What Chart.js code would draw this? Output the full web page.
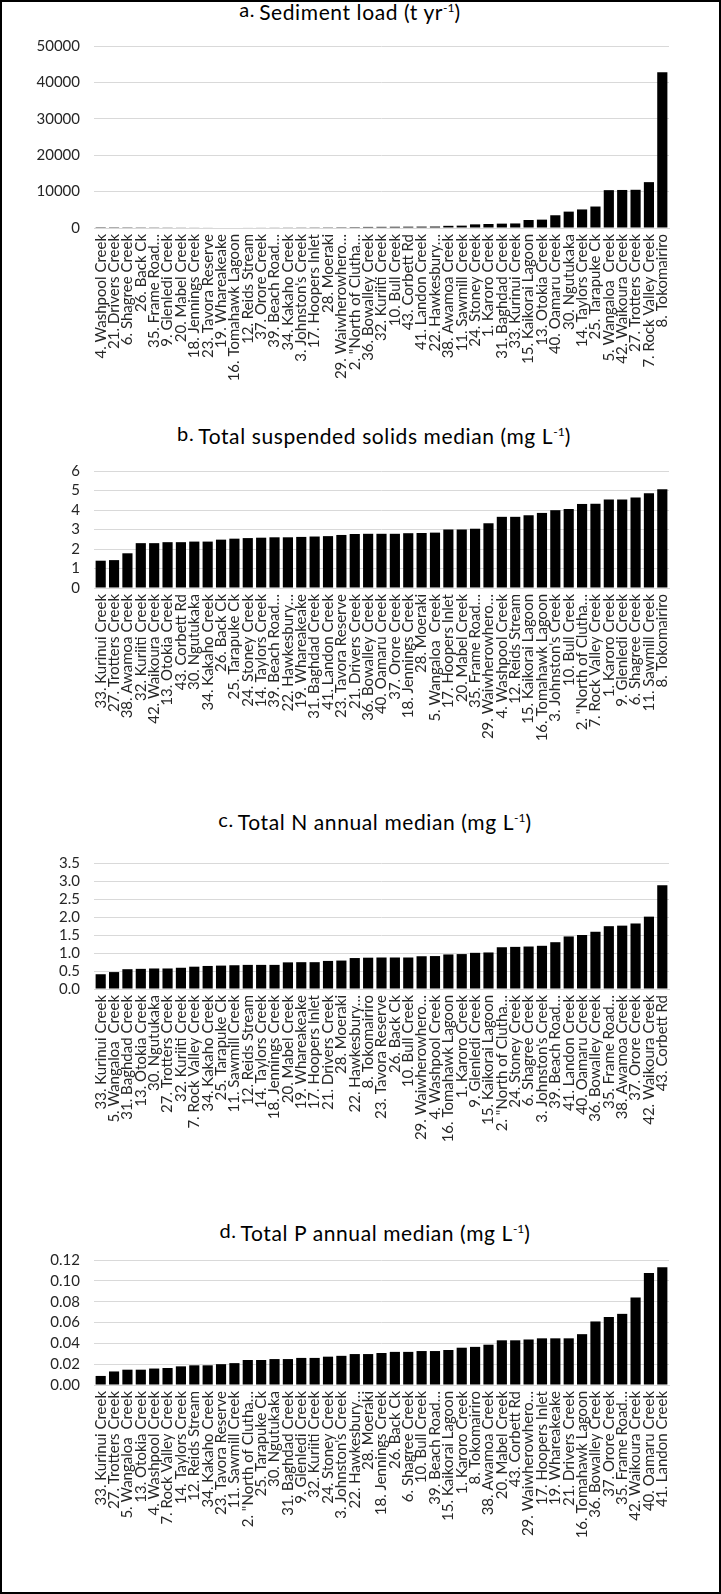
<!DOCTYPE html>
<html>
<head>
<meta charset="utf-8">
<script src="https://cdn.jsdelivr.net/npm/chart.js@4.4.1/dist/chart.umd.min.js"></script>
<style>
  html, body { margin: 0; padding: 0; background: #fff; }
  #page { position: relative; width: 721px; height: 1594px; overflow: hidden; background: #fff; }
  #frame { position: absolute; left: 0; top: 0; width: 721px; height: 1594px; box-sizing: border-box; border: 2px solid #000; pointer-events: none; }
  .title { position: absolute; font-family: Lato, "Open Sans", sans-serif; font-size: 21px; letter-spacing: 0.6px; color: #000; white-space: nowrap; transform: translateX(-50%); line-height: 1; }
  .title .lt { font-size: 20px; position: relative; top: -3px; margin-right: 4px; }
  .title sup { font-size: 12px; vertical-align: 8px; line-height: 0; letter-spacing: 0; }
  .panel { position: absolute; left: 0; width: 721px; }
</style>
</head>
<body>
<div id="page">
  <div class="title" style="left:350px; top:1px;"><span class="lt">a.</span>Sediment load (t yr<sup>-1</sup>)</div>
  <div class="title" style="left:374px; top:425px;"><span class="lt">b.</span>Total suspended solids median (mg L<sup>-1</sup>)</div>
  <div class="title" style="left:375px; top:811px;"><span class="lt">c.</span>Total N annual median (mg L<sup>-1</sup>)</div>
  <div class="title" style="left:375px; top:1222px;"><span class="lt">d.</span>Total P annual median (mg L<sup>-1</sup>)</div>

  <div class="panel" style="top:23px;"><canvas id="chartA" width="721" height="375"></canvas></div>
  <div class="panel" style="top:448px;"><canvas id="chartB" width="721" height="352"></canvas></div>
  <div class="panel" style="top:840px;"><canvas id="chartC" width="721" height="360"></canvas></div>
  <div class="panel" style="top:1237px;"><canvas id="chartD" width="721" height="353"></canvas></div>
  <div id="frame"></div>
</div>
<script>
// a. Sediment load (t/yr), sites sorted ascending
const sitesLoad = [
  "4. Washpool Creek", "21. Drivers Creek", "6. Shagree Creek", "26. Back Ck", "35. Frame Road…",
  "9. Glenledi Creek", "20. Mabel Creek", "18. Jennings Creek", "23. Tavora Reserve", "19. Whareakeake",
  "16. Tomahawk Lagoon", "12. Reids Stream", "37. Orore Creek", "39. Beach Road…", "34. Kakaho Creek",
  "3. Johnston's Creek", "17. Hoopers Inlet", "28. Moeraki", "29. Waiwherowhero…", "2. \"North of Clutha…",
  "36. Bowalley Creek", "32. Kuriiti Creek", "10. Bull Creek", "43. Corbett Rd", "41. Landon Creek",
  "22. Hawkesbury…", "38. Awamoa Creek", "11. Sawmill Creek", "24. Stoney Creek", "1. Karoro Creek",
  "31. Baghdad Creek", "33. Kurinui Creek", "15. Kaikorai Lagoon", "13. Otokia Creek", "40. Oamaru Creek",
  "30. Ngutukaka", "14. Taylors Creek", "25. Tarapuke Ck", "5. Wangaloa  Creek", "42. Waikoura Creek",
  "27. Trotters Creek", "7. Rock Valley Creek", "8. Tokomairiro"
];
const sedimentLoad = [
  40, 50, 60, 70, 80, 90, 100, 110, 120, 130,
  140, 150, 160, 170, 180, 190, 200, 210, 230, 250,
  300, 320, 340, 360, 380, 400, 600, 650, 1000, 1100,
  1200, 1250, 2200, 2300, 3500, 4500, 5100, 5900, 10400, 10450,
  10500, 12600, 42800
];
const ticksLoad = [0, 10000, 20000, 30000, 40000, 50000];

// b. Total suspended solids median (mg/L)
const sitesTSS = [
  "33. Kurinui Creek", "27. Trotters Creek", "38. Awamoa Creek", "32. Kuriiti Creek", "42. Waikoura Creek",
  "13. Otokia Creek", "43. Corbett Rd", "30. Ngutukaka", "34. Kakaho Creek", "26. Back Ck",
  "25. Tarapuke Ck", "24. Stoney Creek", "14. Taylors Creek", "39. Beach Road…", "22. Hawkesbury…",
  "19. Whareakeake", "31. Baghdad Creek", "41. Landon Creek", "23. Tavora Reserve", "21. Drivers Creek",
  "36. Bowalley Creek", "40. Oamaru Creek", "37. Orore Creek", "18. Jennings Creek", "28. Moeraki",
  "5. Wangaloa  Creek", "17. Hoopers Inlet", "20. Mabel Creek", "35. Frame Road…", "29. Waiwherowhero…",
  "4. Washpool Creek", "12. Reids Stream", "15. Kaikorai Lagoon", "16. Tomahawk Lagoon", "3. Johnston's Creek",
  "10. Bull Creek", "2. \"North of Clutha…", "7. Rock Valley Creek", "1. Karoro Creek", "9. Glenledi Creek",
  "6. Shagree Creek", "11. Sawmill Creek", "8. Tokomairiro"
];
const tssMedian = [
  1.40, 1.43, 1.78, 2.30, 2.30, 2.35, 2.35, 2.38, 2.38, 2.48,
  2.53, 2.56, 2.58, 2.60, 2.60, 2.62, 2.64, 2.66, 2.72, 2.77,
  2.78, 2.78, 2.78, 2.81, 2.82, 2.84, 3.00, 3.00, 3.04, 3.32,
  3.65, 3.65, 3.73, 3.85, 3.99, 4.05, 4.31, 4.32, 4.54, 4.54,
  4.64, 4.86, 5.07
];
const ticksTSS = [0, 1, 2, 3, 4, 5, 6];

// c. Total N annual median (mg/L)
const sitesTN = [
  "33. Kurinui Creek", "5. Wangaloa  Creek", "31. Baghdad Creek", "13. Otokia Creek", "30. Ngutukaka",
  "27. Trotters Creek", "32. Kuriiti Creek", "7. Rock Valley Creek", "34. Kakaho Creek", "25. Tarapuke Ck",
  "11. Sawmill Creek", "12. Reids Stream", "14. Taylors Creek", "18. Jennings Creek", "20. Mabel Creek",
  "19. Whareakeake", "17. Hoopers Inlet", "21. Drivers Creek", "28. Moeraki", "22. Hawkesbury…",
  "8. Tokomairiro", "23. Tavora Reserve", "26. Back Ck", "10. Bull Creek", "29. Waiwherowhero…",
  "4. Washpool Creek", "16. Tomahawk Lagoon", "1. Karoro Creek", "9. Glenledi Creek", "15. Kaikorai Lagoon",
  "2. \"North of Clutha…", "24. Stoney Creek", "6. Shagree Creek", "3. Johnston's Creek", "39. Beach Road…",
  "41. Landon Creek", "40. Oamaru Creek", "36. Bowalley Creek", "35. Frame Road…", "38. Awamoa Creek",
  "37. Orore Creek", "42. Waikoura Creek", "43. Corbett Rd"
];
const tnMedian = [
  0.41, 0.47, 0.55, 0.56, 0.57, 0.57, 0.59, 0.62, 0.64, 0.65,
  0.66, 0.67, 0.67, 0.67, 0.74, 0.745, 0.745, 0.78, 0.79, 0.86,
  0.87, 0.875, 0.875, 0.875, 0.91, 0.915, 0.96, 0.97, 1.005, 1.015,
  1.16, 1.17, 1.18, 1.20, 1.30, 1.46, 1.50, 1.59, 1.745, 1.76,
  1.82, 2.01, 2.88
];
const ticksTN = [0, 0.5, 1.0, 1.5, 2.0, 2.5, 3.0, 3.5];

// d. Total P annual median (mg/L)
const sitesTP = [
  "33. Kurinui Creek", "27. Trotters Creek", "5. Wangaloa  Creek", "13. Otokia Creek", "4. Washpool Creek",
  "7. Rock Valley Creek", "14. Taylors Creek", "12. Reids Stream", "34. Kakaho Creek", "23. Tavora Reserve",
  "11. Sawmill Creek", "2. \"North of Clutha…", "25. Tarapuke Ck", "30. Ngutukaka", "31. Baghdad Creek",
  "9. Glenledi Creek", "32. Kuriiti Creek", "24. Stoney Creek", "3. Johnston's Creek", "22. Hawkesbury…",
  "28. Moeraki", "18. Jennings Creek", "26. Back Ck", "6. Shagree Creek", "10. Bull Creek",
  "39. Beach Road…", "15. Kaikorai Lagoon", "1. Karoro Creek", "8. Tokomairiro", "38. Awamoa Creek",
  "20. Mabel Creek", "43. Corbett Rd", "29. Waiwherowhero…", "17. Hoopers Inlet", "19. Whareakeake",
  "21. Drivers Creek", "16. Tomahawk Lagoon", "36. Bowalley Creek", "37. Orore Creek", "35. Frame Road…",
  "42. Waikoura Creek", "40. Oamaru Creek", "41. Landon Creek"
];
const tpMedian = [
  0.0087, 0.013, 0.0147, 0.0147, 0.0158, 0.0163, 0.0179, 0.0189, 0.0189, 0.0200,
  0.0210, 0.0240, 0.0240, 0.0249, 0.0249, 0.0260, 0.0260, 0.0272, 0.0280, 0.0297,
  0.0297, 0.0307, 0.0318, 0.0318, 0.0326, 0.0326, 0.0336, 0.0358, 0.0366, 0.0387,
  0.0429, 0.0429, 0.0437, 0.0448, 0.0448, 0.0448, 0.0488, 0.0610, 0.0653, 0.0683,
  0.0840, 0.1075, 0.1130
];
const ticksTP = [0, 0.02, 0.04, 0.06, 0.08, 0.10, 0.12];

const FONT = "Lato, 'Open Sans', sans-serif";
const GRID = "#d9d9d9";
const TEXT = "#262626";

function barChart(id, labels, values, tickValues, decimals, xAxisHeight) {
  const max = tickValues[tickValues.length - 1];
  return new Chart(document.getElementById(id), {
    type: "bar",
    data: {
      labels: labels,
      datasets: [{
        data: values,
        backgroundColor: "#000",
        borderWidth: 0,
        barPercentage: 0.76,
        categoryPercentage: 1.0
      }]
    },
    options: {
      responsive: false,
      animation: false,
      events: [],
      layout: { padding: { top: 0, right: 52, bottom: 0, left: 0 } },
      plugins: { legend: { display: false }, tooltip: { enabled: false }, title: { display: false } },
      scales: {
        x: {
          grid: { display: false, drawTicks: false },
          border: { display: true, color: GRID, width: 1 },
          ticks: {
            autoSkip: false, maxRotation: 90, minRotation: 90, padding: 6,
            color: TEXT, font: { family: FONT, size: 15 }
          },
          afterFit(s) { s.height = xAxisHeight; }
        },
        y: {
          min: 0, max: max,
          grid: { color: GRID, lineWidth: 1, drawTicks: false },
          border: { display: false },
          afterBuildTicks(s) { s.ticks = tickValues.map(v => ({ value: v })); },
          ticks: {
            autoSkip: false, padding: 14, color: TEXT,
            font: { family: FONT, size: 15 },
            callback: (v) => decimals > 0 ? Number(v).toFixed(decimals) : String(Math.round(v))
          },
          afterFit(s) { s.width = 94; }
        }
      }
    }
  });
}

barChart("chartA", sitesLoad, sedimentLoad, ticksLoad, 0, 170);
barChart("chartB", sitesTSS, tssMedian, ticksTSS, 0, 212);
barChart("chartC", sitesTN, tnMedian, ticksTN, 1, 211);
barChart("chartD", sitesTP, tpMedian, ticksTP, 2, 205);
</script>
</body>
</html>
